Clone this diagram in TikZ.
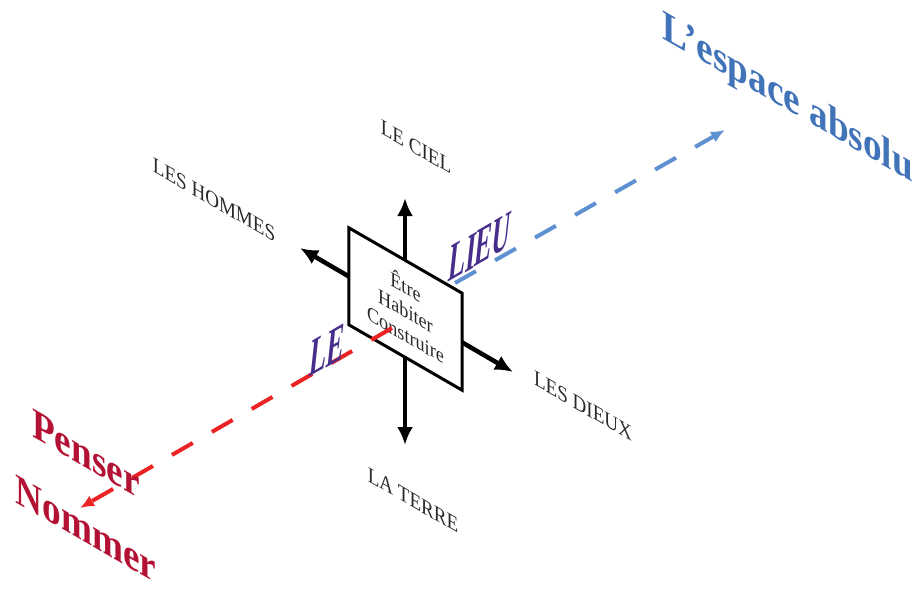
\documentclass[tikz,border=0pt]{standalone}
\usepackage{fontspec}
\setmainfont{Liberation Serif}
\usetikzlibrary{arrows.meta}
\definecolor{lered}{RGB}{235,35,35}
\definecolor{leblue}{RGB}{95,145,210}
\definecolor{lepurple}{RGB}{72,46,140}
\definecolor{lecrimson}{RGB}{180,18,52}
\definecolor{lesky}{RGB}{65,115,185}
\definecolor{legray}{RGB}{40,40,40}
\begin{document}
\begin{tikzpicture}[x=1pt,y=-1pt,
  isoplane/.style={cm={0.866,-0.5,0,1,(0,0)}},
  riseplane/.style={cm={0.84,0.485,0.2,1.85,(0,0)}},
  axislabel/.style={transform shape, inner sep=0pt, text=legray, font=\fontsize{22}{26}\selectfont},
  biglabel/.style={transform shape, inner sep=0pt, font=\fontsize{43}{48}\selectfont\bfseries},
  planelabel/.style={transform shape, inner sep=0pt, text=lepurple, font=\fontsize{30}{34}\selectfont\bfseries},
  bigarrow/.style={draw=black, line width=4.5pt, {Latex[length=18pt,width=16pt]}-{Latex[length=18pt,width=16pt]}},
  redline/.style={draw=lered, line width=4pt, dash pattern=on 24pt off 22pt, -{Latex[length=14pt,width=12pt]}},
  blueline/.style={draw=leblue, line width=4pt, dash pattern=on 24pt off 22pt, -{Latex[length=14pt,width=12pt]}},
  centrebox/.style={draw=black, line width=3pt, fill=white, minimum width=130.5pt, minimum height=97pt, inner sep=0pt, transform shape, align=center, text=legray, font=\fontsize{21}{24}\selectfont}
  ]
\useasboundingbox (0,0) rectangle (918,590);

% axis end points
\coordinate (ciel) at (405,198);
\coordinate (terre) at (405,445);
\coordinate (hommes) at (300,248);
\coordinate (dieux) at (513,372);
\coordinate (redstart) at (392,328);
\coordinate (redend) at (80,508);
\coordinate (bluestart) at (455,283);
\coordinate (blueend) at (725,130);

% black axes behind the box
\draw[bigarrow] (terre) -- (ciel);
\draw[bigarrow] (hommes) -- (dieux);

% central box
\begin{scope}[shift={(405.5,309)},isoplane]
  \node[centrebox] (box) at (0,0) {Être\\Habiter\\Construire};
\end{scope}

% dashed connectors
\draw[redline] (redstart) -- (redend);
\draw[blueline] (bluestart) -- (blueend);

% axis labels
\begin{scope}[shift={(416,147)},isoplane]
  \node[axislabel] (lciel) at (0,0) {LE CIEL};
\end{scope}
\begin{scope}[shift={(214,200)},isoplane]
  \node[axislabel] (lhommes) at (0,0) {LES HOMMES};
\end{scope}
\begin{scope}[shift={(583,406)},isoplane]
  \node[axislabel] (ldieux) at (0,0) {LES DIEUX};
\end{scope}
\begin{scope}[shift={(413,500)},isoplane]
  \node[axislabel] (lterre) at (0,0) {LA TERRE};
\end{scope}

% big labels
\begin{scope}[shift={(86,454)},isoplane]
  \node[biglabel, text=lecrimson] (penser) at (0,0) {Penser};
\end{scope}
\begin{scope}[shift={(86,529)},isoplane]
  \node[biglabel, text=lecrimson] (nommer) at (0,0) {Nommer};
\end{scope}
\begin{scope}[shift={(788,100)},isoplane]
  \node[biglabel, text=lesky] (espace) at (0,0) {L’espace absolu};
\end{scope}

% plane labels
\begin{scope}[shift={(327,350)},riseplane]
  \node[planelabel] (le) at (0,0) {LE};
\end{scope}
\begin{scope}[shift={(480,247)},riseplane]
  \node[planelabel] (lieu) at (0,0) {LIEU};
\end{scope}
\end{tikzpicture}
\end{document}
